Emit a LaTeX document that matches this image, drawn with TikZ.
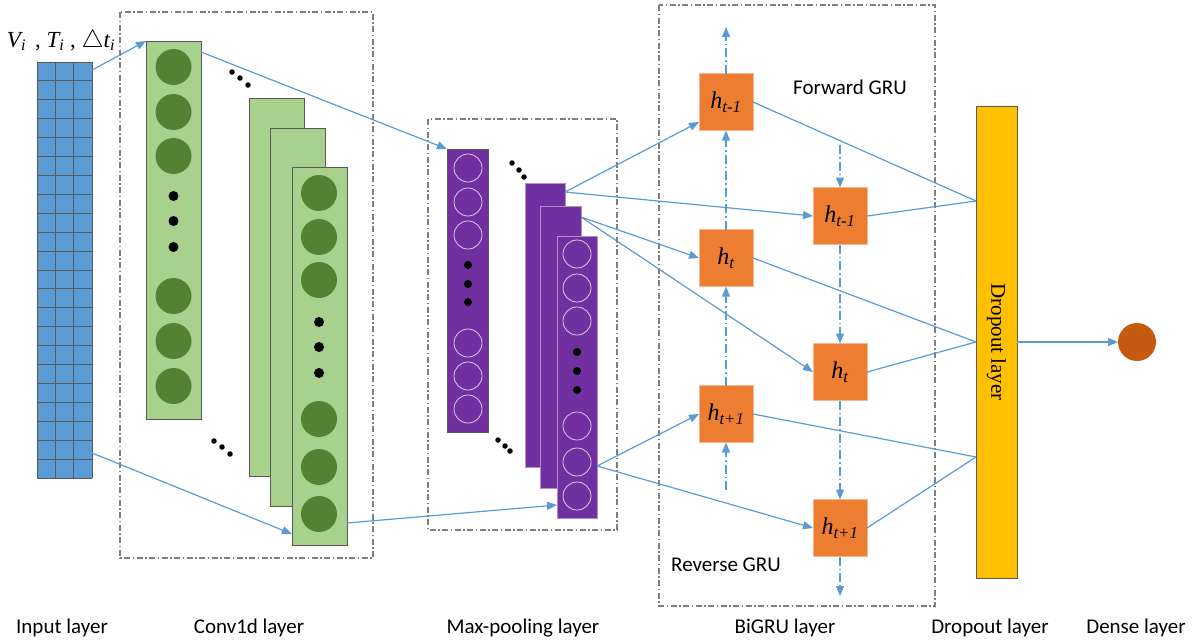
\documentclass[tikz,border=0pt]{standalone}
\usepackage{fontspec}
\setmainfont{Liberation Serif}
\setsansfont{Carlito}
\usetikzlibrary{arrows.meta,calc}
\definecolor{gridblue}{HTML}{5B9BD5}
\definecolor{linkblue}{HTML}{5B9BD5}
\definecolor{convfill}{HTML}{A9D18E}
\definecolor{convdot}{HTML}{548235}
\definecolor{poolfill}{HTML}{7030A0}
\definecolor{gruorange}{HTML}{ED7D31}
\definecolor{dropfill}{HTML}{FFC000}
\definecolor{densefill}{HTML}{C55A11}
\definecolor{edgegrey}{HTML}{595959}
\definecolor{framegrey}{HTML}{7F7F7F}
\newcommand\hstate[1]{{\itshape h}\textsubscript{\itshape #1}}
\begin{document}
\begin{tikzpicture}[x=1pt,y=-1pt,
  every node/.style={inner sep=0pt, outer sep=0pt},
  wire/.style={linkblue, line width=1.2pt},
  arr/.style={wire, -{Triangle[length=10pt,width=8pt]}},
  seqflow/.style={wire, dash pattern=on 9pt off 3pt on 1.5pt off 3pt, -{Triangle[length=10pt,width=8pt]}},
  groupframe/.style={draw=framegrey, line width=1.1pt, dash pattern=on 6pt off 2.5pt on 1.5pt off 2.5pt},
  convmap/.style={draw=edgegrey, fill=convfill, line width=0.9pt, minimum width=55pt, anchor=north west},
  cunit/.style={circle, fill=convdot, minimum size=36pt},
  poolmap/.style={fill=poolfill, draw=poolfill!55!white, line width=0.8pt, minimum width=41pt, anchor=north west},
  punit/.style={circle, draw=white!75!poolfill, line width=0.8pt, minimum size=28pt},
  gru/.style={fill=gruorange, draw=gruorange!55!white, line width=0.6pt, minimum width=54pt, minimum height=57pt, font=\fontsize{24}{24}\selectfont},
  bigdot/.style={circle, fill=black, minimum size=10pt},
  smalldot/.style={circle, fill=black, minimum size=8pt},
  tinydot/.style={circle, fill=black, minimum size=5.5pt},
  layername/.style={font=\sffamily\fontsize{21}{21}\selectfont},
]
\useasboundingbox (0,0) rectangle (1195,641);

% ---------- dashed group frames ----------
\draw[groupframe] (120,12) rectangle (373,558);
\draw[groupframe] (428,119) rectangle (617,530);
\draw[groupframe] (659,5) rectangle (935,606);

% ---------- input layer ----------
\fill[gridblue] (37,62) rectangle (92,478);
\foreach \i in {0,...,22}
  \draw[edgegrey, line width=0.9pt] (37,{62+\i*18.909}) -- (92,{62+\i*18.909});
\foreach \x in {37,55.33,73.67,92}
  \draw[edgegrey, line width=0.9pt] (\x,62) -- (\x,478);
\node[minimum width=55pt, minimum height=416pt, anchor=north west] (inp) at (37,62) {};
\node[font=\fontsize{23}{23}\selectfont] (feat) at (61,41)
  {{\itshape V}\textsubscript{\itshape i}\hspace{9pt}, {\itshape T}\textsubscript{\itshape i} , $\triangle${\itshape t}\textsubscript{\itshape i}};

% ---------- conv1d layer ----------
\node[convmap, minimum height=378pt] (c1) at (146,41) {};
\node[convmap, minimum height=378pt] (c2) at (249,98) {};
\node[convmap, minimum height=378pt] (c3) at (270,128) {};
\node[convmap, minimum height=378pt] (c4) at (292,167) {};
\foreach \y in {67,112,156,296,341,386}
  \node[cunit] at (173.5,\y) {};
\foreach \y in {196,221,247}
  \node[bigdot] at (173.5,\y) {};
\foreach \y in {193,237,280,419,467,514}
  \node[cunit] at (319,\y) {};
\foreach \y in {322,347,373}
  \node[bigdot] at (319,\y) {};
\foreach \p in {(232,72),(240,78),(248,85),(214,441),(222,447),(230,454)}
  \node[tinydot] at \p {};

% ---------- max-pooling layer ----------
\node[poolmap, draw=edgegrey, minimum height=283pt] (p1) at (447,149) {};
\node[poolmap, minimum width=40pt, minimum height=284pt] (p2) at (525,183) {};
\node[poolmap, minimum height=282pt] (p3) at (540,206) {};
\node[poolmap, minimum width=40pt, minimum height=282pt] (p4) at (557,236) {};
\foreach \y in {168,202,235,343,376,409}
  \node[punit] at (468,\y) {};
\foreach \y in {265,284,302}
  \node[smalldot] at (468,\y) {};
\foreach \y in {254,288,321,426,462,496}
  \node[punit] at (577,\y) {};
\foreach \y in {352,371,390}
  \node[smalldot] at (577,\y) {};
\foreach \p in {(512,163),(519,170),(524,177),(498,440),(505,446),(510,451)}
  \node[tinydot] at \p {};

% ---------- BiGRU layer ----------
\node[gru] (g1) at (726,102) {\hstate{t-1}};
\node[gru] (g2) at (840,216) {\hstate{t-1}};
\node[gru] (g3) at (726,258) {\hstate{t}};
\node[gru] (g4) at (840,372) {\hstate{t}};
\node[gru] (g5) at (726,414) {\hstate{t+1}};
\node[gru] (g6) at (840,528) {\hstate{t+1}};
\node[layername] (fwd) at (850,87) {Forward GRU};
\node[layername] (rev) at (726,565) {Reverse GRU};

\coordinate (lt) at (726,27);
\coordinate (lb) at (726,490);
\coordinate (rt) at (840,145);
\coordinate (rb) at (840,596);
\draw[seqflow] (lb) -- (g5.south);
\draw[seqflow] (g5.north) -- (g3.south);
\draw[seqflow] (g3.north) -- (g1.south);
\draw[seqflow] (g1.north) -- (lt);
\draw[seqflow] (rt) -- (g2.north);
\draw[seqflow] (g2.south) -- (g4.north);
\draw[seqflow] (g4.south) -- (g6.north);
\draw[seqflow] (g6.south) -- (rb);

% ---------- dropout and dense layers ----------
\node[fill=dropfill, draw=edgegrey, line width=0.8pt, minimum width=41pt, minimum height=472pt] (drop) at (996.5,342) {};
\node[rotate=-90, font=\fontsize{21}{21}\selectfont] (droptext) at (drop.center) {Dropout layer};
\node[circle, fill=densefill, minimum size=38pt] (dense) at (1137,342) {};
\coordinate (d1) at ($(drop.north west)+(0,95)$);
\coordinate (d3) at ($(drop.north west)+(0,351)$);

% ---------- connections ----------
\draw[arr] ($(inp.north east)+(0,8)$) -- (c1.north west);
\draw[arr] ($(inp.south east)+(0,-25)$) -- ($(c4.south west)+(0,-11)$);
\draw[arr] ($(c1.north east)+(0,11)$) -- (p1.north west);
\draw[arr] ($(c4.south east)+(0,-22)$) -- ($(p4.south west)+(0,-13)$);
\draw[arr] ($(p2.north east)+(0,9)$) -- ($(g1.west)+(0,20)$);
\draw[arr] ($(p2.north east)+(0,9)$) -- (g2.west);
\draw[arr] ($(p3.north east)+(0,11)$) -- (g3.west);
\draw[arr] ($(p3.north east)+(0,11)$) -- (g4.west);
\draw[arr] ($(p4.north east)+(0,230)$) -- (g5.west);
\draw[arr] ($(p4.north east)+(0,230)$) -- (g6.west);
\draw[wire] (g1.east) -- (d1);
\draw[wire] (g2.east) -- (d1);
\draw[wire] (g3.east) -- (drop.west);
\draw[wire] (g4.east) -- (drop.west);
\draw[wire] (g5.east) -- (d3);
\draw[wire] (g6.east) -- (d3);
\draw[arr] (drop.east) -- (dense.west);

% ---------- layer names ----------
\node[layername] (n1) at (62,628) {Input layer};
\node[layername] (n2) at (249,628) {Conv1d layer};
\node[layername] (n3) at (523,628) {Max-pooling layer};
\node[layername] (n4) at (785,628) {BiGRU layer};
\node[layername] (n5) at (990,628) {Dropout layer};
\node[layername] (n6) at (1136,628) {Dense layer};
\end{tikzpicture}
\end{document}
